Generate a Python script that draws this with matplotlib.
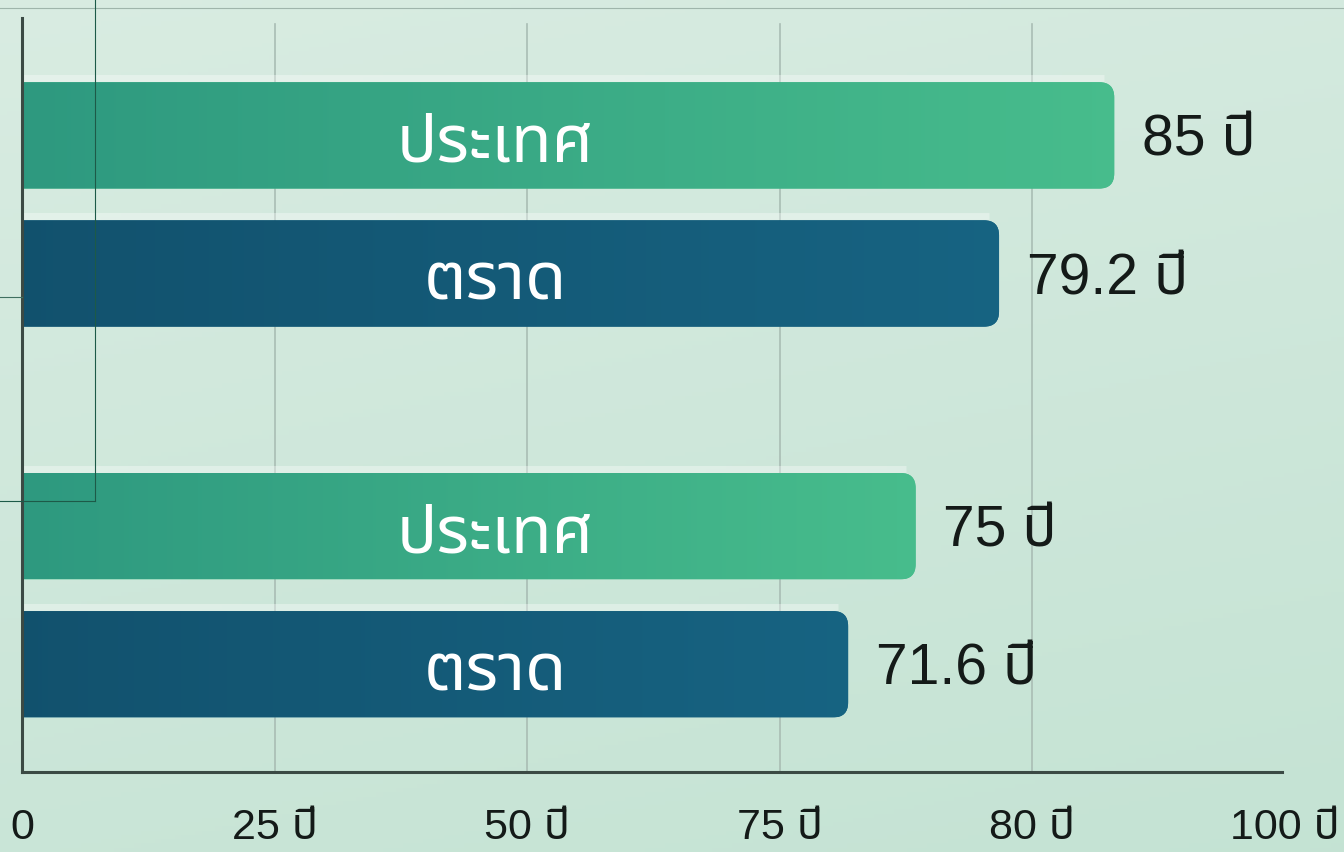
import numpy as np
import matplotlib
matplotlib.use("Agg")
import matplotlib.pyplot as plt
from matplotlib.patches import FancyBboxPatch
from matplotlib.transforms import blended_transform_factory
from matplotlib.lines import Line2D

# ---------------- data ----------------
bar_labels = ["ประเทศ", "ตราด", "ประเทศ", "ตราด"]
values = [85, 79.2, 75, 71.6]
value_texts = ["85 ปี", "79.2 ปี", "75 ปี", "71.6 ปี"]
tick_labels = ["0", "25 ปี", "50 ปี", "75 ปี", "80 ปี", "100 ปี"]

# ---------------- fonts ----------------
num_family = ["Liberation Sans", "Noto Sans Thai", "DejaVu Sans"]
thai_family = ["Noto Sans Thai", "DejaVu Sans"]

# ---------------- figure ----------------
W, H = 1344, 852
fig = plt.figure(figsize=(W / 100, H / 100), dpi=100)

# background gradient
bg = fig.add_axes([0, 0, 1, 1], zorder=-10)
yy, xx = np.mgrid[0:1:200j, 0:1:200j]
top = np.array([0.85, 0.925, 0.885])
bot = np.array([0.77, 0.89, 0.83])
t = (0.75 * yy + 0.25 * xx)[..., None]
img = top * (1 - t) + bot * t
bg.imshow(img, extent=[0, 1, 0, 1], aspect="auto", origin="upper")
bg.axis("off")

# axes placement (pixels)
ax_l, ax_r, ax_b, ax_t = 22, 1285, 772, 18
ax = fig.add_axes([ax_l / W, 1 - ax_b / H, (ax_r - ax_l) / W, (ax_b - ax_t) / H])
ax.patch.set_alpha(0)

xmin, xmax = 30.0, 93.6
ylo, yhi = -0.78, 4.68
ax.set_xlim(xmin, xmax)
ax.set_ylim(ylo, yhi)

# bar positions: two groups, two bars each
group_gap, pair_gap = 2.83, 1.0
ypos = []
for g in range(2):
    base = (1 - g) * group_gap
    ypos += [base + pair_gap, base]
bar_h = 0.77

colors_left = [np.array([0.18, 0.60, 0.50]), np.array([0.07, 0.32, 0.43])]
colors_right = [np.array([0.28, 0.74, 0.55]), np.array([0.09, 0.39, 0.51])]

px_x = (ax_r - ax_l) / (xmax - xmin)
px_y = (ax_b - ax_t) / (yhi - ylo)
rad_px = 15
tr = blended_transform_factory(ax.transAxes, ax.transData)
for i, (y, v) in enumerate(zip(ypos, values)):
    ci = i % 2
    x0 = xmin - 2
    patch = FancyBboxPatch((x0, y - bar_h / 2), v - x0, bar_h,
                           boxstyle=f"round,pad=0,rounding_size={rad_px / px_x}",
                           mutation_aspect=px_x / px_y,
                           facecolor=colors_right[ci], edgecolor="none", zorder=2)
    ax.add_patch(patch)
    grad = np.linspace(0, 1, 256)[None, :, None]
    gimg = colors_left[ci] * (1 - grad) + colors_right[ci] * grad
    im = ax.imshow(gimg, extent=[xmin, v, y - bar_h / 2, y + bar_h / 2],
                   aspect="auto", zorder=3, interpolation="bilinear")
    im.set_clip_path(patch)
    # subtle glow above bar
    ax.plot([xmin, v - 0.5], [y + bar_h / 2 + 0.03] * 2, color="white",
            alpha=0.35, lw=5, zorder=1.5, solid_capstyle="butt")
    # inner label
    ax.text(0.375, y - 0.06, bar_labels[i], transform=tr, ha="center", va="center",
            color="white", fontsize=48, family=thai_family, zorder=5)
    # value label
    ax.annotate(value_texts[i], (v, y), xytext=(20, -4), textcoords="offset points",
                ha="left", va="center", fontsize=41, family=num_family,
                color="#141a18", zorder=5)

ax.set_ylim(ylo, yhi)
ax.set_xlim(xmin, xmax)

# ticks
ticks = np.linspace(xmin, xmax, len(tick_labels))
ax.set_xticks(ticks)
ax.set_xticklabels(tick_labels, fontsize=31, family=num_family, color="#141a18")
ax.tick_params(axis="x", length=0, pad=26)
ax.set_yticks([])
for tk in ticks[1:-1]:
    ax.plot([tk, tk], [ylo, yhi - 0.04], color="#a9bdb4", lw=1.2, zorder=1)

for s in ["top", "right"]:
    ax.spines[s].set_visible(False)
for s in ["left", "bottom"]:
    ax.spines[s].set_color("#3b4a44")
    ax.spines[s].set_linewidth(2.2)
    ax.spines[s].set_zorder(6)
ax.spines["bottom"].set_bounds(xmin, xmin + (1282 - ax_l) / px_x)

# thin frame artifacts present in the source image
def fl(x0, y0, x1, y1, c, lw=0.8):
    fig.add_artist(Line2D([x0 / W, x1 / W], [1 - y0 / H, 1 - y1 / H],
                          color=c, lw=lw, zorder=20))
fl(0, 8, W, 8, "#9fb5ab")
fl(95, 0, 95, 501, "#1d5a48")
fl(0, 501, 95, 501, "#1d5a48")
fl(0, 297, 22, 297, "#3f6f60")

fig.savefig("out.png", dpi=100)
